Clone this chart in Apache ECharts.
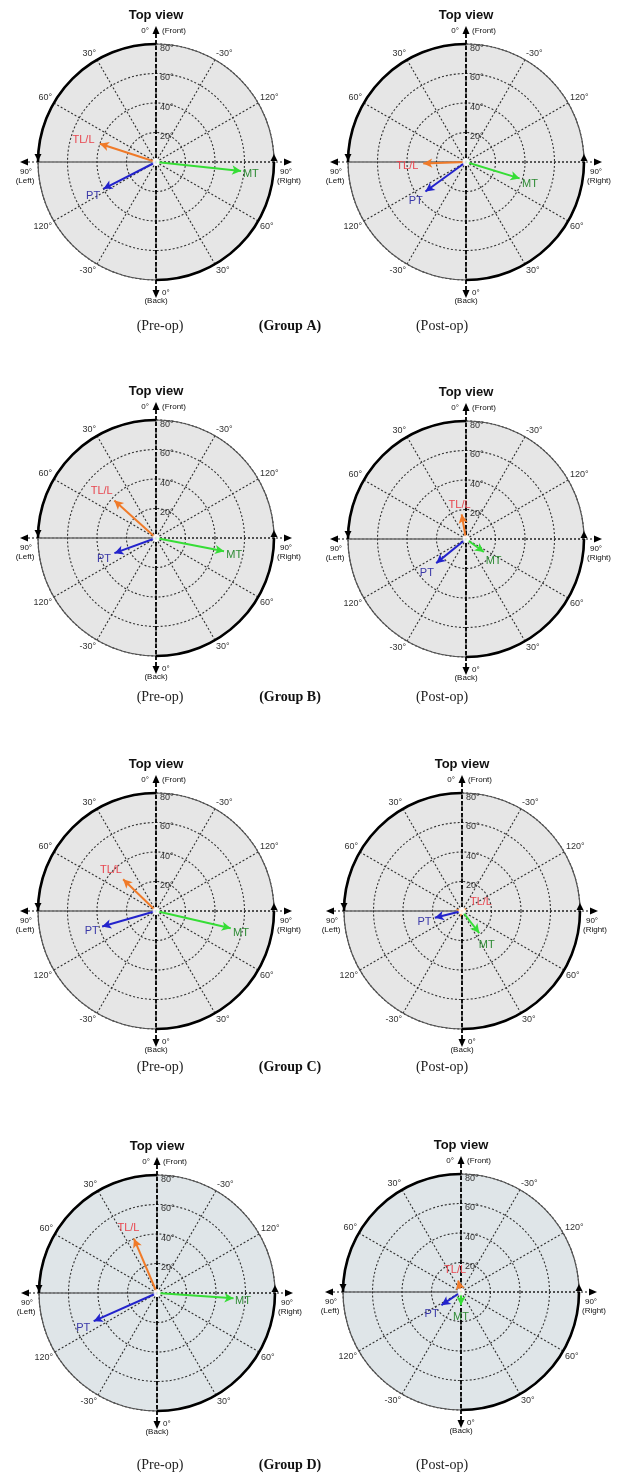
<!DOCTYPE html>
<html>
<head>
<meta charset="utf-8">
<script src="https://cdn.jsdelivr.net/npm/echarts@6/dist/echarts.min.js"></script>
<style>
  html, body { margin: 0; padding: 0; background: #fff; }
  #chart-container { width: 619px; height: 1479px; }
</style>
</head>
<body>
<div id="chart-container"></div>
<script>
var dom = document.getElementById('chart-container');
var myChart = echarts.init(dom, null, { renderer: 'canvas' });

// data
var groups = ['Group A', 'Group B', 'Group C', 'Group D'];
var vectorNames = ['TL/L', 'PT', 'MT'];
// direction, degrees clockwise from Front, per group: [TL/L, PT, MT]
var preAngle = [[288, 243, 96], [312, 250, 101], [314, 254, 103], [337, 246, 94]];
var preLength = [[40, 40, 58], [38, 30, 47], [31, 38, 52], [40, 47, 52]];
var postAngle = [[268, 234, 107], [350, 231, 126], [60, 256, 142], [346, 236, 180]];
var postLength = [[29, 34, 38], [17, 26, 15], [3, 19, 19], [8, 16, 9]];
// outer tick labels, one per 30 degrees clockwise from Front
var angleTickLabels = ['', '-30°', '120°', '', '60°', '30°', '', '-30°', '120°', '', '60°', '30°', ''];
var radiusTicks = [0, 20, 40, 60, 80];

// layout
var R = 118;
var centers = [[156, 162], [466, 162], [156, 538], [466, 539], [156, 911], [462, 911], [157, 1293], [461, 1292]];
var captionY = [326, 697, 1067, 1465];
var lineColors = ['#f07a28', '#2323cc', '#36dd36'];
var labelColors = ['#e8464f', '#3a38a8', '#2e8b35'];
var font = '"Liberation Sans", Arial, sans-serif';

var polar = [], angleAxis = [], radiusAxis = [], series = [], graphic = [];

function txt(x, y, s, size, align, extra) {
  graphic.push({
    type: 'text', x: x, y: y, z: 20,
    style: Object.assign({
      text: s, font: size + 'px ' + font, fill: '#111',
      textAlign: align || 'center', textVerticalAlign: 'middle'
    }, extra || {})
  });
}
function tri(points) {
  graphic.push({ type: 'polygon', z: 20, shape: { points: points }, style: { fill: '#000' } });
}

centers.forEach(function (c, i) {
  var g = Math.floor(i / 2);
  var post = i % 2 === 1;
  var cx = c[0], cy = c[1];
  var bg = g === 3 ? '#dfe5e8' : '#e6e6e6';

  // disc background
  graphic.push({ type: 'circle', z: -1, shape: { cx: cx, cy: cy, r: R }, style: { fill: bg } });

  polar.push({ center: [cx, cy], radius: R });
  angleAxis.push({
    polarIndex: i, type: 'value', min: 0, max: 360, interval: 30,
    startAngle: 90, clockwise: true,
    axisLine: { lineStyle: { color: '#555', width: 1.2 } },
    axisTick: { show: false },
    axisLabel: {
      margin: 2, fontSize: 9, color: '#333', fontFamily: font,
      formatter: function (v) { return angleTickLabels[Math.round(v / 30)] || ''; }
    },
    splitLine: { lineStyle: { color: '#333', width: 1.1, type: [2, 2] } }
  });
  radiusAxis.push({
    polarIndex: i, type: 'value', min: radiusTicks[0], max: radiusTicks[radiusTicks.length - 1], interval: 20,
    axisLine: { show: false }, axisTick: { show: false },
    axisLabel: {
      fontSize: 9, color: '#333', fontFamily: font, margin: -4, align: 'left', verticalAlign: 'top',
      formatter: function (v) { return v ? v + '°' : ''; }
    },
    splitLine: { show: true, lineStyle: { color: '#333', width: 1.1, type: [2, 2] } }
  });

  var ang = post ? postAngle[g] : preAngle[g];
  var len = post ? postLength[g] : preLength[g];
  vectorNames.forEach(function (name, j) {
    var t = ang[j] * Math.PI / 180;
    var ux = Math.sin(t), uy = -Math.cos(t);
    var d = name.length * 3.3 * Math.abs(ux) + 7 * Math.abs(uy) + 7;
    series.push({
      type: 'line', coordinateSystem: 'polar', polarIndex: i, z: 10,
      silent: true, animation: false,
      lineStyle: { color: lineColors[j], width: 2 },
      itemStyle: { color: lineColors[j] },
      data: [
        { value: [0, ang[j]], symbol: 'none' },
        {
          value: [len[j], ang[j]], symbol: 'arrow', symbolSize: [7, 9], symbolRotate: -ang[j],
          label: {
            show: true, position: 'inside', formatter: name, fontSize: 11, fontFamily: font,
            color: labelColors[j], offset: [ux * d, uy * d + 2]
          }
        }
      ]
    });
  });
  series.push({
    type: 'scatter', coordinateSystem: 'polar', polarIndex: i, z: 12, silent: true, animation: false,
    symbol: 'emptyCircle', symbolSize: 5, itemStyle: { color: '#fff', borderColor: '#222', borderWidth: 1 },
    data: [[0, 0]]
  });

  // cross axes extending past the rim
  graphic.push({ type: 'line', z: 5, shape: { x1: cx, y1: cy - R - 10, x2: cx, y2: cy + R + 10 },
    style: { stroke: '#000', lineWidth: 1.8, lineDash: [4, 2] } });
  graphic.push({ type: 'line', z: 5, shape: { x1: cx - R - 10, y1: cy, x2: cx + R + 10, y2: cy },
    style: { stroke: '#222', lineWidth: 1.1, lineDash: [2, 2] } });
  // thick rim arcs
  graphic.push({ type: 'arc', z: 15, shape: { cx: cx, cy: cy, r: R, startAngle: Math.PI, endAngle: Math.PI * 1.5, clockwise: true },
    style: { stroke: '#000', lineWidth: 2.6, fill: null } });
  graphic.push({ type: 'arc', z: 15, shape: { cx: cx, cy: cy, r: R, startAngle: 0, endAngle: Math.PI * 0.5, clockwise: true },
    style: { stroke: '#000', lineWidth: 2.6, fill: null } });
  tri([[cx - R, cy - 1], [cx - R - 3.5, cy - 8], [cx - R + 3.5, cy - 8]]);
  tri([[cx + R, cy - 8], [cx + R - 3.5, cy - 1], [cx + R + 3.5, cy - 1]]);
  // outer arrows
  tri([[cx, cy - R - 18], [cx - 3.5, cy - R - 10], [cx + 3.5, cy - R - 10]]);
  tri([[cx, cy + R + 18], [cx - 3.5, cy + R + 10], [cx + 3.5, cy + R + 10]]);
  tri([[cx - R - 18, cy], [cx - R - 10, cy - 3.5], [cx - R - 10, cy + 3.5]]);
  tri([[cx + R + 18, cy], [cx + R + 10, cy - 3.5], [cx + R + 10, cy + 3.5]]);

  txt(cx - 7, cy - R - 13, '0°', 8, 'right');
  txt(cx + 6, cy - R - 13, '(Front)', 8, 'left');
  txt(cx + 6, cy + R + 13, '0°', 8, 'left');
  txt(cx, cy + R + 21, '(Back)', 8, 'center');
  txt(cx - R - 12, cy + 10, '90°', 8, 'center');
  txt(cx - R - 13, cy + 19, '(Left)', 8, 'center');
  txt(cx + R + 12, cy + 10, '90°', 8, 'center');
  txt(cx + R + 15, cy + 19, '(Right)', 8, 'center');
  txt(cx, cy - 147, 'Top view', 13, 'center', { font: 'bold 13px ' + font });
});

groups.forEach(function (name, g) {
  var y = captionY[g];
  var serif = '"Liberation Serif", "Times New Roman", serif';
  txt(160, y, '(Pre-op)', 14, 'center', { font: '14px ' + serif, fill: '#222' });
  txt(290, y, '(' + name + ')', 14, 'center', { font: 'bold 14px ' + serif, fill: '#111' });
  txt(442, y, '(Post-op)', 14, 'center', { font: '14px ' + serif, fill: '#222' });
});

var option = {
  animation: false,
  polar: polar,
  angleAxis: angleAxis,
  radiusAxis: radiusAxis,
  series: series,
  graphic: graphic
};

if (option && typeof option === 'object') {
  myChart.setOption(option);
}

window.addEventListener('resize', myChart.resize);
</script>
</body>
</html>
